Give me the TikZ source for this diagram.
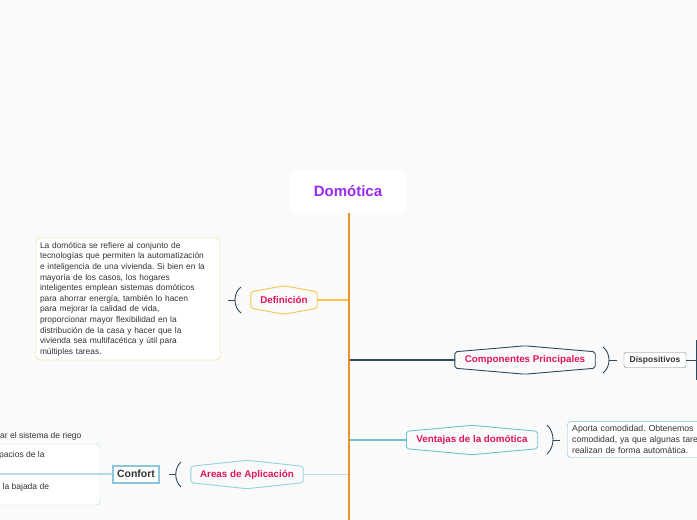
\documentclass[tikz,border=0pt]{standalone}
\usepackage{fontspec}
\setmainfont{Liberation Sans}
\frenchspacing
\definecolor{trunkorange}{HTML}{E8912D}
\definecolor{defyellow}{HTML}{F5C64A}
\definecolor{compslate}{HTML}{2E4A5B}
\definecolor{ventteal}{HTML}{6CC3D2}
\definecolor{arealight}{HTML}{B5DCEA}
\definecolor{areaborder}{HTML}{93D2E2}
\definecolor{confblue}{HTML}{8CC6DD}
\definecolor{hexred}{HTML}{E0145C}
\definecolor{titlepurple}{HTML}{9B2BF0}
\definecolor{bodygrey}{HTML}{333333}
\definecolor{bggrey}{HTML}{FAFAFA}
% six-sided frame round a node, peaks on top and bottom
\newcommand{\hexframe}[2]{\draw[#2, line width=0.9pt, rounded corners=2pt] (#1.north west) -- ([yshift=6pt]#1.north) -- (#1.north east) -- (#1.south east) -- ([yshift=-6pt]#1.south) -- (#1.south west) -- cycle;}
\begin{document}
\begin{tikzpicture}[x=1pt, y=-1pt,
  hexnode/.style = {minimum height=16pt, inner xsep=0pt, text=hexred, font=\fontsize{9.8}{11}\selectfont\bfseries},
  infobox/.style = {draw, rounded corners=4pt, fill=white, align=left, text=bodygrey, inner sep=4pt},
  bracket/.style = {compslate, line width=0.9pt},
  smalltext/.style = {inner sep=0pt, anchor=west, text=bodygrey, font=\fontsize{8.5}{10}\selectfont}]
				\useasboundingbox (0,0) rectangle (697,520);
				\clip (0,0) rectangle (697,520);
				\fill[bggrey] (0,0) rectangle (697,520);
				% title and trunk
				\node (dom) at (348,191.5) [fill=white, rounded corners=4pt, minimum width=116pt, minimum height=43pt, text=titlepurple, font=\fontsize{15}{18}\selectfont\bfseries] {Domótica};
				\coordinate (trunkend) at (349,520);
				\draw[trunkorange, line width=1.8pt] (dom.south -| trunkend) -- (trunkend);
				% Definicion
				\node (def) at (284,300) [hexnode, minimum width=66pt] {Definición};
				\hexframe{def}{defyellow}
				\coordinate (t1) at (348,300);
				\draw[defyellow, line width=1.2pt] (def.east) -- (def.east -| t1);
				\draw[bracket] (241,287) .. controls (233,293) and (233,307) .. (241,313);
				\coordinate (b1) at (235,300);
				\coordinate (b1tip) at (228,300);
				\draw[bracket] (b1) -- (b1tip);
				\node (deftext) at (128,299) [infobox, draw=defyellow!80, text width=176pt, font=\fontsize{8.4}{10.6}\selectfont] {La domótica se refiere al conjunto de\\tecnologías que permiten la automatización\\e inteligencia de una vivienda. Si bien en la\\mayoría de los casos, los hogares\\inteligentes emplean sistemas domóticos\\para ahorrar energía, también lo hacen\\para mejorar la calidad de vida,\\proporcionar mayor flexibilidad en la\\distribución de la casa y hacer que la\\vivienda sea multifacética y útil para\\múltiples tareas.};
				% Componentes Principales
				\node (comp) at (525,360) [hexnode, minimum width=140pt] {Componentes Principales};
				\hexframe{comp}{compslate}
				\coordinate (t2) at (350,360);
				\draw[compslate, line width=1.2pt] (comp.west -| t2) -- (comp.west);
				\draw[bracket] (603,347) .. controls (611,353) and (611,367) .. (603,373);
				\coordinate (b2) at (609,360);
				\coordinate (b2tip) at (617,360);
				\draw[bracket] (b2) -- (b2tip);
				\node (disp) at (655,360) [draw=compslate!70, rounded corners=2pt, fill=white, minimum width=62pt, minimum height=15pt, inner sep=1pt, font=\fontsize{8.5}{10}\selectfont\bfseries, text=bodygrey] {Dispositivos};
				\coordinate (dispend) at (696,360);
				\draw[compslate, line width=1pt] (disp.east) -- (dispend);
				\draw[compslate, line width=1pt] (dispend) ++(0,-20) -- ++(0,40);
				% Ventajas
				\node (vent) at (472,440) [hexnode, minimum width=131pt, minimum height=17pt] {Ventajas de la domótica};
				\hexframe{vent}{ventteal}
				\coordinate (t3) at (350,440);
				\draw[ventteal, line width=1.5pt] (vent.west -| t3) -- (vent.west);
				\draw[bracket] (547,425) .. controls (555,432) and (555,447) .. (547,454);
				\coordinate (b3) at (553,440);
				\coordinate (b3tip) at (560,440);
				\draw[bracket] (b3) -- (b3tip);
				\node (venttext) at (567,439.5) [infobox, anchor=west, draw=ventteal, text width=170pt, inner xsep=5pt, font=\fontsize{8.7}{11}\selectfont] {Aporta comodidad. Obtenemos\\comodidad, ya que algunas tare\\realizan de forma automática.};
				% Areas de Aplicacion
				\node (area) at (247,474.5) [hexnode, minimum width=112pt] {Areas de Aplicación};
				\hexframe{area}{areaborder}
				\coordinate (t4) at (348,474);
				\draw[arealight, line width=1.5pt] (area.east) -- (area.east -| t4);
				\draw[bracket] (181,462) .. controls (174,468) and (174,481) .. (181,487);
				\coordinate (b4) at (176,474.5);
				\coordinate (b4tip) at (169,474.5);
				\draw[bracket] (b4) -- (b4tip);
				\node (grp) at (30,474.5) [draw=arealight, rounded corners=4pt, fill=white, minimum width=140pt, minimum height=61pt] {};
				\node (conf) at (136,474) [draw=confblue, line width=2pt, fill=white, minimum width=46pt, minimum height=17pt, inner sep=1pt, font=\fontsize{10.5}{12}\selectfont\bfseries, text=bodygrey] {Confort};
				\coordinate (leftend) at (0,474.5);
				\draw[arealight, line width=1.2pt] (conf.west) -- (conf.west -| leftend);
				\node (riego) at (0,436) [smalltext] {ar el sistema de riego};
				\node (espacios) at (-1,455) [smalltext] {pacios de la};
				\node (bajada) at (2.5,487) [smalltext] {la bajada de};
\end{tikzpicture}
\end{document}
